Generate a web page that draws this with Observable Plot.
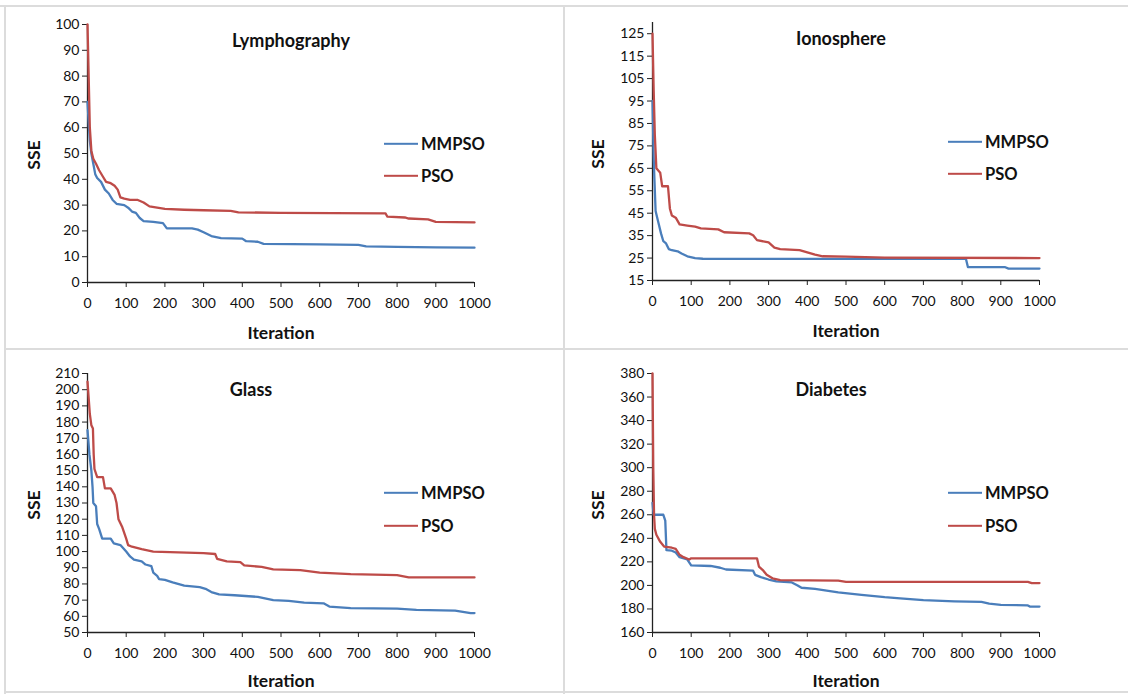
<!DOCTYPE html>
<html><head><meta charset="utf-8">
<script src="https://cdn.jsdelivr.net/npm/d3@7"></script>
<script src="https://cdn.jsdelivr.net/npm/@observablehq/plot@0.6"></script>
<style>
body{margin:0;background:#fff;}
#root{position:relative;width:1128px;height:694px;overflow:hidden;font-family:Lato,"Open Sans",sans-serif;color:#111;}
.panel{position:absolute;width:564px;height:347px;}
.panel svg{position:absolute;left:0;top:0;}
.t{position:absolute;font-weight:bold;white-space:nowrap;transform:translate(-50%,-50%);}
.title{font-size:18px;}
.xl{font-size:17.5px;}
.yl{font-size:17.5px;transform:translate(-50%,-50%) rotate(-90deg);}
.lg{position:absolute;font-weight:bold;font-size:16.5px;white-space:nowrap;transform:translateY(-50%);}
.sw{position:absolute;height:2.4px;transform:translateY(-50%);}
.bd{position:absolute;background:#dcdcdc;}
</style></head>
<body><div id="root"></div>
<script>
// ---------- data ----------
const seriesNames = ["MMPSO", "PSO"];
const colors = ["#4a7ebb", "#be4b48"];
const xTicks = [0,100,200,300,400,500,600,700,800,900,1000];

// Lymphography
const lymphMmpsoIter = [0,3,6,10,15,20,25,35,45,55,65,75,95,105,115,125,135,145,170,195,205,270,285,300,320,345,400,410,440,455,600,700,720,800,900,1000];
const lymphMmpsoSSE  = [70,62,55,50,46,42,40.5,39,36,34.5,32,30.5,30,29,27.5,27,25,23.8,23.5,23,21,21,20.5,19.5,18,17.2,17,16,15.8,15,14.8,14.6,14,13.8,13.6,13.5];
const lymphPsoIter = [0,3,6,10,15,22,30,40,48,60,70,78,85,95,110,130,145,160,180,200,250,300,370,390,500,770,775,820,830,880,900,1000];
const lymphPsoSSE  = [100,80,60,51,48,46,43.5,41,39,38.5,37.5,36,33,32.5,32,32,31,29.5,29,28.5,28.2,28,27.8,27.2,27,26.8,25.5,25.2,24.8,24.5,23.5,23.3];
const lymphTicks = [0,10,20,30,40,50,60,70,80,90,100];

// Ionosphere
const ionoMmpsoIter = [0,3,5,8,15,22,28,35,42,50,65,75,90,110,130,300,600,810,815,910,920,1000];
const ionoMmpsoSSE  = [95,70,60,46,41,36,32.5,31.5,29,28.5,28,27,25.8,25,24.7,24.6,24.6,24.6,21,21,20.3,20.3];
const ionoPsoIter = [0,3,6,10,20,25,40,45,50,60,70,90,110,125,170,185,250,260,270,300,315,330,380,400,420,440,500,600,1000];
const ionoPsoSSE  = [125,100,80,65,63,57,57,47,44,43,40,39.5,39,38.2,37.8,36.5,36,35.2,33,32,29.7,29,28.5,27.5,26.5,25.8,25.6,25.2,25];
const ionoTicks = [15,25,35,45,55,65,75,85,95,105,115,125];

// Glass
const glassMmpsoIter = [0,5,10,13,15,22,25,30,38,60,68,85,100,110,120,140,150,165,170,180,185,200,220,250,290,305,320,340,380,440,480,520,560,610,625,680,800,850,950,990,1000];
const glassMmpsoSSE  = [175,160,150,140,130,128,117,114,108,108,105,104,100,97,95,94,92,91,87,85,83,82.5,81,79,78,77,75,73.5,73,72,70,69.5,68.5,68,66,65,64.8,64,63.5,62,62];
const glassPsoIter = [0,3,6,10,14,16,18,25,40,45,60,70,75,80,90,100,105,115,140,170,300,330,335,360,395,405,450,480,550,600,680,800,830,1000];
const glassPsoSSE  = [205,195,185,178,176,160,151,146,146,139,139,135,130,120,115,108,104,103,101.5,100,99,98.5,95.5,94,93.5,91.5,90.5,89,88.5,87,86,85.5,84,84];
const glassTicks = [50,60,70,80,90,100,110,120,130,140,150,160,170,180,190,200,210];

// Diabetes
const diabMmpsoIter = [0,3,28,33,36,50,60,70,90,100,150,175,190,260,265,280,300,320,360,375,385,420,450,480,540,600,640,700,780,850,870,900,970,975,1000];
const diabMmpsoSSE  = [270,260,260,255,230,229.5,228,224,222,217,216.5,215,213.5,212.5,209,207,205,203.5,202.5,200,198,197,195.5,194,192,190,189,187.5,186.5,186,184.5,183.5,183,182,182];
const diabPsoIter = [0,2,4,6,10,20,30,50,60,70,80,95,100,270,275,285,295,310,330,480,500,970,980,1000];
const diabPsoSSE  = [380,300,260,248,243,237,233,232,231,226,224,222,223,223,216,213,209,206,204.5,204,203,203,202,202];
const diabTicks = [160,180,200,220,240,260,280,300,320,340,360,380];

// ---------- layout ----------
const panels = [
  {name:"Lymphography", ox:0, oy:0, ml:87, mt:24, mr:90, mb:65, dom:[0,100], ticks:lymphTicks,
   series:[[lymphMmpsoIter,lymphMmpsoSSE],[lymphPsoIter,lymphPsoSSE]],
   title:[291,40], xl:[281,332], yl:[33,155], lg:[144,176]},
  {name:"Ionosphere", ox:564, oy:0, ml:88, mt:22, mr:89, mb:67, dom:[15,130], ticks:ionoTicks,
   series:[[ionoMmpsoIter,ionoMmpsoSSE],[ionoPsoIter,ionoPsoSSE]],
   title:[277,38], xl:[282,330], yl:[33,154], lg:[142,174]},
  {name:"Glass", ox:0, oy:347, ml:87, mt:26, mr:90, mb:62, dom:[50,210], ticks:glassTicks,
   series:[[glassMmpsoIter,glassMmpsoSSE],[glassPsoIter,glassPsoSSE]],
   title:[251,42], xl:[281,333], yl:[33,158], lg:[146,179]},
  {name:"Diabetes", ox:564, oy:347, ml:88, mt:26, mr:89, mb:62, dom:[160,380], ticks:diabTicks,
   series:[[diabMmpsoIter,diabMmpsoSSE],[diabPsoIter,diabPsoSSE]],
   title:[267,42], xl:[282,333], yl:[33,158], lg:[146,179]}
];

const root = document.getElementById("root");
function border(x,y,w,h){const d=document.createElement("div");d.className="bd";Object.assign(d.style,{left:x+"px",top:y+"px",width:w+"px",height:h+"px"});root.appendChild(d);}
border(0,5,1128,2); border(4,5,2,689); border(563,5,2,689); border(4,348,1124,2); border(4,691,1124,2);

for (const p of panels) {
  const div = document.createElement("div");
  div.className = "panel";
  div.style.left = p.ox + "px"; div.style.top = p.oy + "px";
  const rows = [];
  p.series.forEach(([xs, ys], k) => xs.forEach((x, i) => rows.push({s: seriesNames[k], x, y: ys[i]})));
  const chart = Plot.plot({
    width: 564, height: 347,
    marginLeft: p.ml, marginTop: p.mt, marginRight: p.mr, marginBottom: p.mb,
    style: {fontFamily: "Lato, 'Open Sans', sans-serif", fontSize: "14px", color: "#111", background: "transparent", overflow: "visible"},
    x: {domain: [0, 1000]},
    y: {domain: p.dom},
    color: {domain: seriesNames, range: colors},
    marks: [
      Plot.ruleX([0], {stroke: "#222", strokeWidth: 1.3}),
      Plot.ruleY([p.dom[0]], {stroke: "#222", strokeWidth: 1.3}),
      Plot.axisY({ticks: p.ticks, tickSize: 5, tickPadding: 3, label: null, tickFormat: d => String(d), stroke: "#222"}),
      Plot.axisX({ticks: xTicks, tickSize: 5, tickPadding: 11, label: null, tickFormat: d => String(d), stroke: "#222"}),
      Plot.line(rows, {x: "x", y: "y", z: "s", stroke: "s", strokeWidth: 2.3, curve: "linear"})
    ]
  });
  div.appendChild(chart);
  const mk = (cls, txt, x, y) => {const e=document.createElement("div");e.className="t "+cls;e.textContent=txt;e.style.left=x+"px";e.style.top=y+"px";div.appendChild(e);};
  mk("title", p.name, p.title[0], p.title[1]);
  mk("xl", "Iteration", p.xl[0], p.xl[1]);
  mk("yl", "SSE", p.yl[0], p.yl[1]);
  seriesNames.forEach((n, k) => {
    const sw = document.createElement("div"); sw.className="sw";
    Object.assign(sw.style,{left:"384px",top:p.lg[k]+"px",width:"34px",background:colors[k]}); div.appendChild(sw);
    const t = document.createElement("div"); t.className="lg"; t.textContent=n;
    Object.assign(t.style,{left:"421px",top:p.lg[k]+"px"}); div.appendChild(t);
  });
  root.appendChild(div);
}
</script>
</body></html>
